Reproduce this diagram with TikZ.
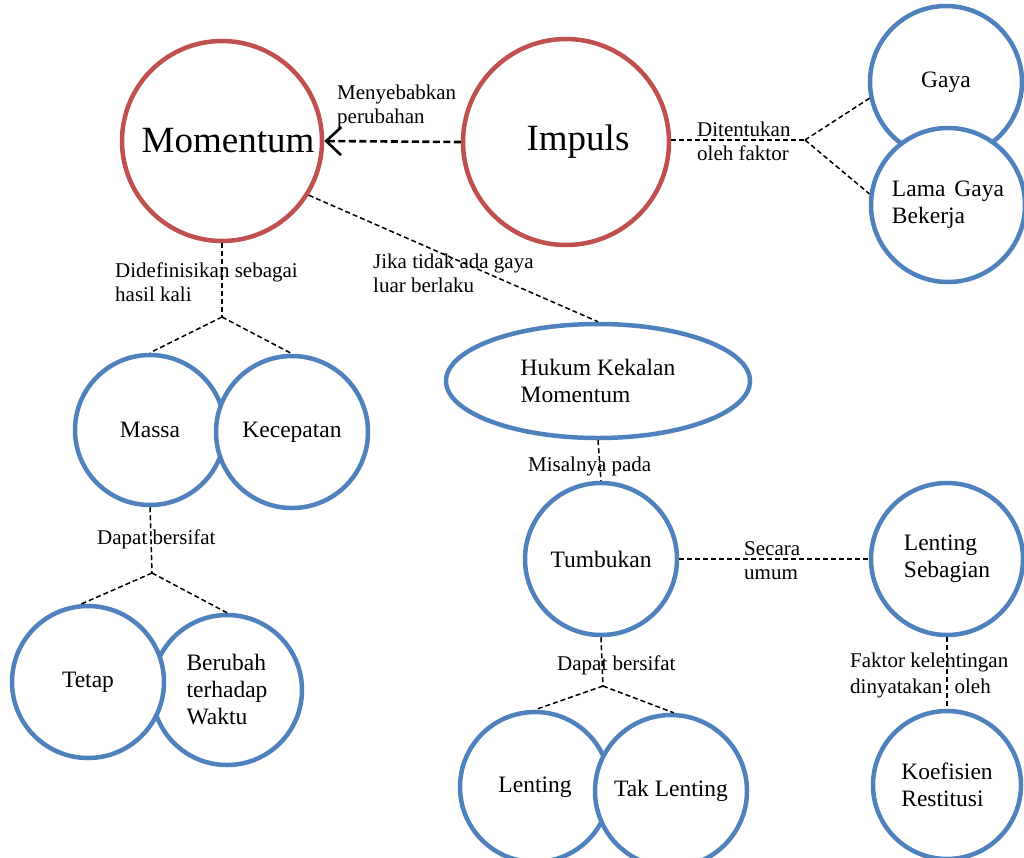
\documentclass[tikz,border=0pt]{standalone}
\usepackage{fontspec}
\setmainfont{Liberation Serif}
\usetikzlibrary{shapes.geometric,arrows.meta}
\definecolor{conceptred}{RGB}{192,80,77}
\definecolor{conceptblue}{RGB}{79,129,189}
\begin{document}
\begin{tikzpicture}[x=1pt,y=-1pt,
  keyidea/.style={circle,draw=conceptred,line width=4.5pt,fill=white,
    inner sep=0pt,minimum size=#1},
  concept/.style={circle,draw=conceptblue,line width=4.5pt,fill=white,
    inner sep=0pt,minimum size=#1,align=left,
    font=\fontsize{23.5}{27}\selectfont},
  concept/.default=152,
  bigtext/.style={font=\fontsize{37}{42}\selectfont},
  link/.style={line width=1.5pt,dash pattern=on 5pt off 3pt},
  causelink/.style={line width=2.6pt,dash pattern=on 7pt off 3.5pt,
    -{Straight Barb[length=15pt,width=28pt,line width=2.6pt]}},
  lbl/.style={anchor=north west,inner sep=0pt,align=left,
    font=\fontsize{21}{24}\selectfont}
]
\useasboundingbox (0,0) rectangle (1024,857);

% main concepts
\node[keyidea=200,label={[bigtext,xshift=6pt]center:Momentum}] (mom) at (222,141) {};
\node[keyidea=206,label={[bigtext,xshift=12pt]center:Impuls}] (imp) at (566,142) {};

% factors of impulse (second circle overlaps the first)
\node[concept] (gaya) at (946,82) {Gaya};
\node[concept=154] (lama) at (948,205) {Lama\hspace{9pt}Gaya\\Bekerja};

% definition of momentum
\node[concept=150] (massa) at (150,430) {Massa};
\node[concept] (kec) at (292,432) {Kecepatan};

% nature of the quantities
\node[concept=150] (berubah) at (227,690) {Berubah\\terhadap\\Waktu};
\node[concept] (tetap) at (88,682) {Tetap};

% conservation law
\node[ellipse,draw=conceptblue,line width=4.5pt,fill=white,inner sep=0pt,
  minimum width=304,minimum height=114,align=left,
  font=\fontsize{23.5}{27}\selectfont] (huk) at (598,381)
  {Hukum Kekalan\\Momentum};

% collisions
\node[concept] (tumb) at (601,559) {Tumbukan};
\node[concept=150] (lent) at (535,787) {Lenting};
\node[concept] (taklent) at (671,791) {Tak Lenting};
\node[concept] (lentseb) at (947,559) {Lenting\\Sebagian};
\node[concept=148] (koef) at (947,785) {Koefisien\\Restitusi};

% branching points
\coordinate (jimp) at (805,140);
\coordinate (jmom) at (222,317);
\coordinate (jmassa) at (152,573);
\coordinate (jtumb) at (603,686);

% connectors
\draw[causelink] (imp.west) -- (mom.east);
\draw[link] (imp.east |- jimp) -- (jimp);
\draw[link] (jimp) -- (gaya.192);
\draw[link] (jimp) -- (lama.172);
\draw[link] (mom.south) -- (jmom);
\draw[link] (jmom) -- (massa.north);
\draw[link] (jmom) -- (kec.north);
\draw[link] (mom.-32) -- (huk.north);
\draw[link] (massa.south) -- (jmassa);
\draw[link] (jmassa) -- (tetap.95);
\draw[link] (jmassa) -- (berubah.north);
\draw[link] (huk.south) -- (tumb.north);
\draw[link] (tumb.south) -- (jtumb);
\draw[link] (jtumb) -- (lent.north);
\draw[link] (jtumb) -- (taklent.88);
\draw[link] (tumb.east) -- (lentseb.west);
\draw[link] (lentseb.south) -- (koef.north);

% connector labels
\node[lbl] (lcause) at (337,84.5) {Menyebabkan\\perubahan};
\node[lbl] (lfactor) at (697,121.7) {Ditentukan\\oleh faktor};
\node[lbl] (ldef) at (115,262.7) {Didefinisikan sebagai\\hasil kali};
\node[lbl] (lcons) at (373,253.7) {Jika tidak ada gaya\\luar berlaku};
\node[lbl] (lnature) at (97,529.7) {Dapat bersifat};
\node[lbl] (lexample) at (528,456.7) {Misalnya pada};
\node[lbl] (lgeneral) at (744,541) {Secara\\umum};
\node[lbl,font=\fontsize{21}{26}\selectfont] (lcoef) at (850,652.7)
  {Faktor kelentingan\\dinyatakan\hspace{7pt} oleh};
\node[lbl] (lkind) at (557,655.7) {Dapat bersifat};
\end{tikzpicture}
\end{document}
